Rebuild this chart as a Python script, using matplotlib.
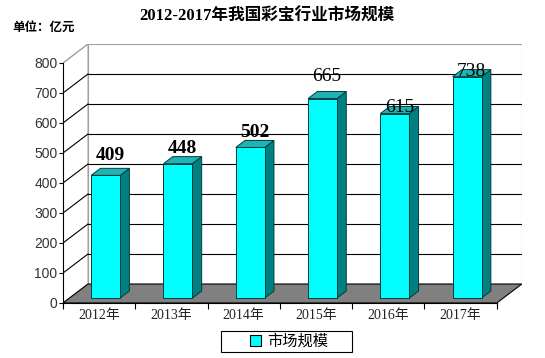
import matplotlib
matplotlib.use('Agg')
import matplotlib.pyplot as plt
from matplotlib.patches import Polygon, Rectangle

years = ['2012年', '2013年', '2014年', '2015年', '2016年', '2017年']
market_size = [409, 448, 502, 665, 615, 738]
y_ticks = [0, 100, 200, 300, 400, 500, 600, 700, 800]
series_name = '市场规模'

# label styling (the source chart has uneven label placement)
label_offsets = [14, 11, 11, 16, 4, 4]
label_weights = ['bold', 'bold', 'bold', 'normal', 'normal', 'normal']

CJK = ['Noto Sans CJK SC', 'DejaVu Sans']
SERIF_CJK = ['Liberation Serif', 'Noto Sans CJK SC']

# fake 3d depth, in data units
DX = 0.346
DY = 63.3
F0, F1 = 0.26, 0.63   # bar front/back depth fraction
W0, W1 = 0.30, 0.70   # bar span inside each category
ymax = 800
n = len(years)

fig = plt.figure(figsize=(5.45, 3.58), dpi=100)
ax = fig.add_axes([63 / 545, 55 / 358, 458.8 / 545, 259 / 358])
ax.set_xlim(0, n + DX)
ax.set_ylim(0, ymax + DY)

# back wall
ax.add_patch(Polygon([(DX, DY), (n + DX, DY), (n + DX, ymax + DY), (DX, ymax + DY)],
                     closed=True, facecolor='white', edgecolor='#a0a0a0', lw=0.8, zorder=1))
# left wall
ax.add_patch(Polygon([(0, 0), (DX, DY), (DX, ymax + DY), (0, ymax)],
                     closed=True, facecolor='white', edgecolor='#a0a0a0', lw=0.8, zorder=1))
for v in y_ticks[1:-1]:
    ax.plot([DX, n + DX], [v + DY, v + DY], color='black', lw=0.8, zorder=2)
    ax.plot([0, DX], [v, v + DY], color='black', lw=0.8, zorder=2)
ax.plot([0, DX], [ymax, ymax + DY], color='#a0a0a0', lw=0.8, zorder=2)

# floor
ax.add_patch(Polygon([(0, 0), (n, 0), (n + DX, DY), (DX, DY)],
                     closed=True, facecolor='#808080', edgecolor='black', lw=0.8, zorder=3))

# bars
for i, v in enumerate(market_size):
    x0 = i + W0 + F0 * DX
    x1 = i + W1 + F0 * DX
    yb = F0 * DY
    ddx = (F1 - F0) * DX
    ddy = (F1 - F0) * DY
    ax.add_patch(Polygon([(x1, yb), (x1 + ddx, yb + ddy), (x1 + ddx, yb + ddy + v), (x1, yb + v)],
                         closed=True, facecolor='#008080', edgecolor='#003c3c', lw=0.7, zorder=4))
    ax.add_patch(Polygon([(x0, yb + v), (x1, yb + v), (x1 + ddx, yb + v + ddy), (x0 + ddx, yb + v + ddy)],
                         closed=True, facecolor='#1fb3b3', edgecolor='#003c3c', lw=0.7, zorder=4))
    ax.add_patch(Polygon([(x0, yb), (x1, yb), (x1, yb + v), (x0, yb + v)],
                         closed=True, facecolor='#00ffff', edgecolor='#003c3c', lw=0.7, zorder=5))
    ax.annotate(str(v), xy=((x0 + x1) / 2 + ddx / 2, yb + v), xytext=(0, label_offsets[i]),
                textcoords='offset points', ha='center', va='center', fontsize=14,
                family='Liberation Serif', fontweight=label_weights[i], zorder=6)

# axes
for s in ['top', 'right']:
    ax.spines[s].set_visible(False)
ax.spines['left'].set_bounds(0, ymax)
ax.spines['bottom'].set_bounds(0, n)
ax.spines['left'].set_zorder(6)
ax.spines['bottom'].set_zorder(6)
ax.set_yticks(y_ticks)
ax.set_yticklabels([str(t) for t in y_ticks], family='Liberation Sans', fontsize=10, color='#333333')
ax.tick_params(axis='y', length=3, width=0.8, pad=1)
ax.set_xticks([i + 0.5 for i in range(n)])
ax.set_xticklabels(years, family=SERIF_CJK, fontsize=10, color='#222222')
ax.set_xticks(range(n + 1), minor=True)
ax.tick_params(axis='x', which='major', length=0, pad=4)
ax.tick_params(axis='x', which='minor', length=4, width=0.8)

fig.text(0.49, 0.955, '2012-2017年我国彩宝行业市场规模', ha='center', va='center',
         family=SERIF_CJK, fontsize=12, fontweight='bold')
fig.text(0.022, 0.925, '单位：亿元', ha='left', va='center', family=CJK, fontsize=9, fontweight='bold')

# legend: frame drawn separately so it is as wide as the original
fig.patches.append(Rectangle((221 / 545, 1 - 352 / 358), 131 / 545, 21 / 358,
                             transform=fig.transFigure, facecolor='white', edgecolor='black', lw=0.8))
fig.legend(handles=[Rectangle((0, 0), 1, 1, facecolor='#00ffff', edgecolor='black', lw=0.8)],
           labels=[series_name], loc='center', bbox_to_anchor=(289 / 545, 1 - 341.5 / 358),
           prop={'family': CJK, 'size': 11}, frameon=False,
           handlelength=0.7, handleheight=0.7, handletextpad=0.4, borderpad=0.15)

plt.savefig('out.png', dpi=100)
plt.close()
